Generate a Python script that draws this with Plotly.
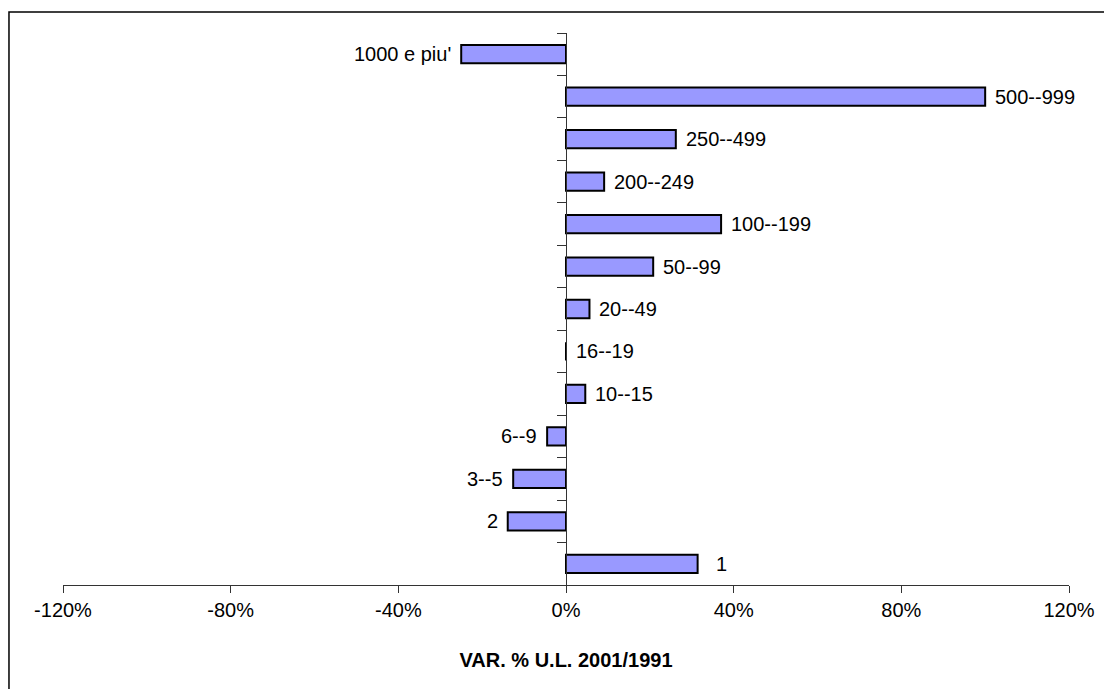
import plotly.graph_objects as go

categories = ["1", "2", "3--5", "6--9", "10--15", "16--19", "20--49", "50--99",
              "100--199", "200--249", "250--499", "500--999", "1000 e piu'"]
values = [0.314, -0.139, -0.126, -0.045, 0.046, 0.0, 0.056, 0.208,
          0.370, 0.091, 0.262, 1.00, -0.25]
x_ticks = [-1.2, -0.8, -0.4, 0.0, 0.4, 0.8, 1.2]
x_tick_labels = ["-120%", "-80%", "-40%", "0%", "40%", "80%", "120%"]
x_title = "VAR. % U.L. 2001/1991"

FONT = "Liberation Sans, Arial, sans-serif"

fig = go.Figure()
fig.add_trace(go.Bar(
    y=list(range(len(categories))), x=values, orientation="h",
    marker=dict(color="#9999ff", line=dict(color="black", width=2)),
    width=0.43, hoverinfo="skip",
))

extra_gap = {"1": 8}
annotations = []
for i, (c, v) in enumerate(zip(categories, values)):
    gap = 8 + extra_gap.get(c, 0)
    annotations.append(dict(
        x=v, y=i, xref="x", yref="y", text=c, showarrow=False,
        xanchor="left" if v >= 0 else "right",
        xshift=gap if v >= 0 else -gap,
        font=dict(family=FONT, size=20, color="black"),
    ))

fig.update_layout(
    width=1104, height=681,
    margin=dict(l=55, r=43, t=25, b=104),
    paper_bgcolor="white", plot_bgcolor="white",
    showlegend=False,
    annotations=annotations,
    xaxis=dict(
        range=[-1.2, 1.2], tickvals=x_ticks, ticktext=x_tick_labels,
        showgrid=False, zeroline=False, showline=True, linecolor="#333333", linewidth=1,
        ticks="outside", ticklen=7, tickcolor="#333333",
        tickfont=dict(family=FONT, size=20, color="black"),
        title=dict(text="<b>" + x_title + "</b>", font=dict(family=FONT, size=20, color="black"),
                   standoff=32),
        fixedrange=True,
    ),
    yaxis=dict(
        range=[-0.5, len(categories) - 0.5],
        tickvals=[k - 0.5 for k in range(len(categories) + 1)],
        anchor="free", position=0.5,
        showgrid=False, zeroline=False, showline=True, linecolor="#333333", linewidth=1,
        ticks="outside", ticklen=9, tickcolor="#333333",
        showticklabels=False, fixedrange=True,
    ),
    shapes=[dict(type="rect", xref="paper", yref="paper",
                 x0=-0.0537, x1=1.2, y0=-0.4, y1=1.038,
                 line=dict(color="black", width=1.5), fillcolor="rgba(0,0,0,0)",
                 layer="above")],
)

fig.write_html("out.html", config={"displayModeBar": False})
